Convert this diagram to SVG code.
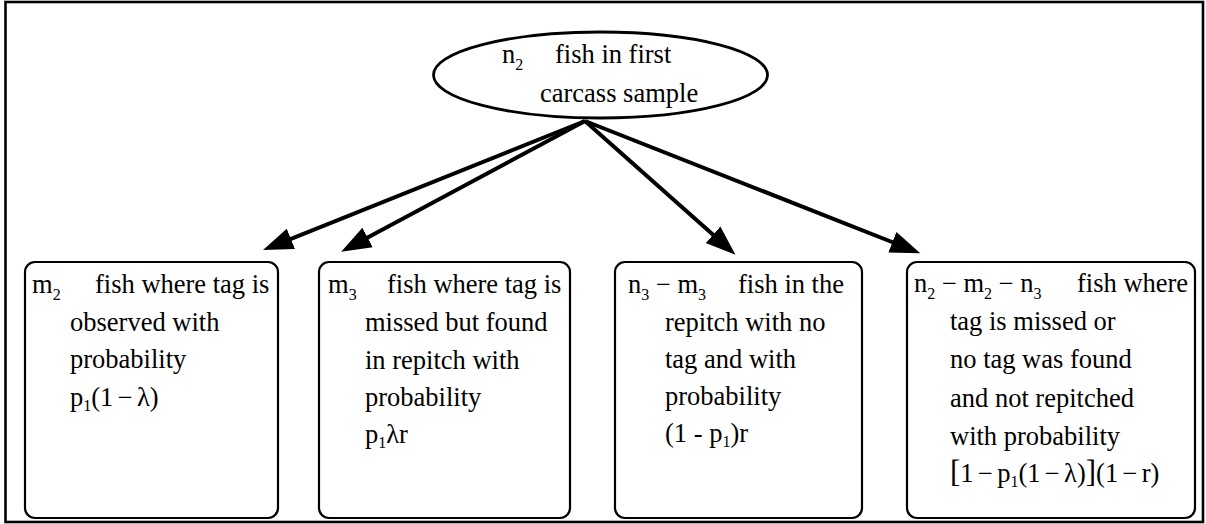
<svg xmlns="http://www.w3.org/2000/svg" width="1206" height="524" viewBox="0 0 1206 524">
  <style>
    text { font-family: "Liberation Serif", "Times New Roman", serif; fill: #000; }
    .t { font-size: 26.5px; }
    .e { font-size: 26.5px; }
    .sub { font-size: 16px; }
    .f { word-spacing: -2.3px; }
    .box { fill: #fff; stroke: #000; stroke-width: 2.2; }
    .frame { fill: none; stroke: #000; stroke-width: 2.6; }
    .edge { fill: none; stroke: #000; stroke-width: 4; marker-end: url(#head); }
  </style>
  <defs>
    <marker id="head" markerUnits="userSpaceOnUse" markerWidth="34" markerHeight="26" refX="20" refY="12" orient="auto">
      <path d="M0,1 L30,12 L0,23 Z" fill="#000"/>
    </marker>
  </defs>

  <rect class="frame" x="5.5" y="2" width="1197.5" height="520"/>

  <!-- connectors from the sample to each outcome -->
  <g id="connectors">
    <line class="edge" x1="585" y1="121" x2="272.3" y2="246.3"/>
    <line class="edge" x1="585" y1="121" x2="350" y2="247"/>
    <line class="edge" x1="585" y1="121" x2="728" y2="248"/>
    <line class="edge" x1="585" y1="121" x2="911" y2="249.5"/>
  </g>

  <g id="sample">
    <ellipse cx="600.5" cy="75" rx="167" ry="43" fill="#fff" stroke="#000" stroke-width="2.8"/>
    <text class="e" x="502" y="63">n<tspan class="sub" dy="7">2</tspan></text>
    <text class="e" x="555" y="63">fish in first</text>
    <text class="e" x="540" y="102">carcass sample</text>
  </g>

  <g id="tag-observed">
    <rect class="box" x="25" y="262" width="253" height="256" rx="10"/>
    <text class="t" x="32" y="293">m<tspan class="sub" dy="7">2</tspan></text>
    <text class="t" x="95" y="293">fish where tag is</text>
    <text class="t" x="70" y="331">observed with</text>
    <text class="t" x="70" y="368">probability</text>
    <text class="t f" x="70" y="406">p<tspan class="sub" dy="5">1</tspan><tspan dy="-5">(1 − λ)</tspan></text>
  </g>

  <g id="found-in-repitch">
    <rect class="box" x="319" y="262" width="251" height="256" rx="10"/>
    <text class="t" x="328" y="293">m<tspan class="sub" dy="7">3</tspan></text>
    <text class="t" x="387" y="293">fish where tag is</text>
    <text class="t" x="365" y="331">missed but found</text>
    <text class="t" x="365" y="369">in repitch with</text>
    <text class="t" x="365" y="406">probability</text>
    <text class="t" x="365" y="443">p<tspan class="sub" dy="5">1</tspan><tspan dy="-5">λr</tspan></text>
  </g>

  <g id="no-tag-repitch">
    <rect class="box" x="615" y="262" width="247" height="256" rx="10"/>
    <text class="t" x="628" y="293">n<tspan class="sub" dy="7">3</tspan><tspan dy="-7"> − m</tspan><tspan class="sub" dy="7">3</tspan></text>
    <text class="t" x="738" y="293">fish in the</text>
    <text class="t" x="665" y="331">repitch with no</text>
    <text class="t" x="665" y="368">tag and with</text>
    <text class="t" x="665" y="405">probability</text>
    <text class="t" x="665" y="442">(1 - p<tspan class="sub" dy="5">1</tspan><tspan dy="-5">)r</tspan></text>
  </g>

  <g id="not-repitched">
    <rect class="box" x="907" y="262" width="288" height="256" rx="10"/>
    <text class="t" x="914" y="292">n<tspan class="sub" dy="7">2</tspan><tspan dy="-7"> − m</tspan><tspan class="sub" dy="7">2</tspan><tspan dy="-7"> − n</tspan><tspan class="sub" dy="7">3</tspan></text>
    <text class="t" x="1077" y="292">fish where</text>
    <text class="t" x="950" y="330">tag is missed or</text>
    <text class="t" x="950" y="368">no tag was found</text>
    <text class="t" x="950" y="407">and not repitched</text>
    <text class="t" x="950" y="445">with probability</text>
    <text class="t f" x="950" y="482"><tspan font-size="31">[</tspan>1 − p<tspan class="sub" dy="5">1</tspan><tspan dy="-5">(1 − λ)</tspan><tspan font-size="31">]</tspan>(1 − r)</text>
  </g>
</svg>
